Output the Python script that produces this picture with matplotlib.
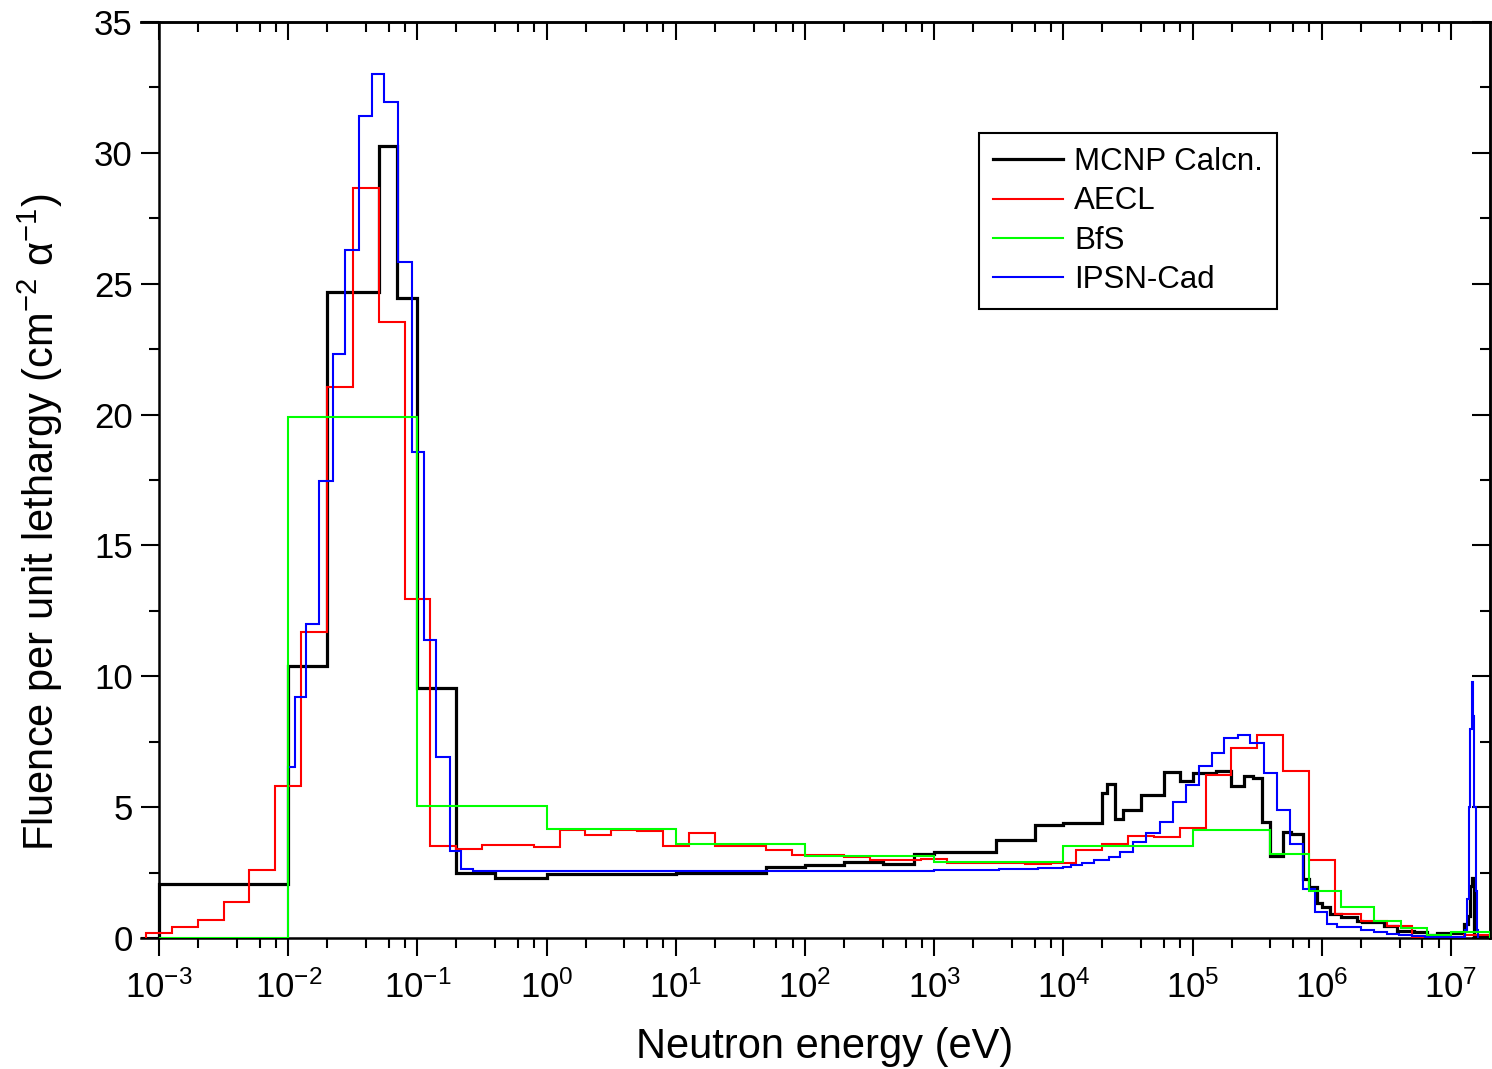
import numpy as np
import matplotlib
matplotlib.use('Agg')
import matplotlib.pyplot as plt
from matplotlib.lines import Line2D
from matplotlib.ticker import FixedLocator, MultipleLocator, NullFormatter, LogFormatterSciNotation

plt.rcParams['font.family'] = ['Liberation Sans', 'DejaVu Sans']
plt.rcParams['mathtext.fontset'] = 'custom'
plt.rcParams['mathtext.rm'] = 'Liberation Sans'
plt.rcParams['mathtext.it'] = 'Liberation Sans:italic'
plt.rcParams['mathtext.bf'] = 'Liberation Sans:bold'

# group boundaries are given as log10(E / eV), values are fluence per unit lethargy
mcnp_log_edges = [-3.0, -2.0, -1.699, -1.301, -1.155, -1.0, -0.699, -0.398, 0.0, 1.0, 1.699,
                  2.0, 2.301, 2.602, 2.845, 3.0, 3.477, 3.778, 4.0, 4.301, 4.34, 4.40, 4.46,
                  4.60, 4.78, 4.90, 5.0, 5.18, 5.30, 5.40, 5.47, 5.54, 5.60, 5.70, 5.76, 5.85,
                  5.90, 5.96, 6.0, 6.06, 6.15, 6.27, 6.31, 6.48, 6.58, 6.71, 6.81, 6.89, 7.10,
                  7.13, 7.15, 7.165, 7.18, 7.30]
mcnp_values = [2.06, 10.4, 24.7, 30.25, 24.45, 9.55, 2.5, 2.3, 2.45, 2.5, 2.7,
               2.8, 2.89, 2.83, 3.2, 3.3, 3.75, 4.3, 4.38, 5.55, 5.9, 4.55,
               4.9, 5.46, 6.36, 6.01, 6.3, 6.39, 5.82, 6.2, 6.1, 4.45, 3.12, 4.04, 3.97,
               2.25, 1.94, 1.34, 1.2, 0.92, 0.79, 0.66, 0.6, 0.47, 0.28, 0.22, 0.11, 0.19,
               0.55, 0.85, 2.0, 2.3, 0.05]

aecl_log_edges = [-3.1, -2.9, -2.7, -2.5, -2.3, -2.1, -1.9, -1.7, -1.5, -1.3, -1.1, -0.9,
                  -0.7, -0.5, -0.3, -0.1, 0.1, 0.3, 0.5, 0.7, 0.9, 1.1, 1.3, 1.5, 1.7, 1.9,
                  2.1, 2.3, 2.5, 2.7, 2.9, 3.1, 3.3, 3.5, 3.7, 3.9, 4.1, 4.3, 4.5, 4.7, 4.9,
                  5.1, 5.3, 5.5, 5.7, 5.9, 6.1, 6.3, 6.5, 6.7, 6.9, 7.1, 7.3]
aecl_values = [0.18, 0.41, 0.68, 1.36, 2.59, 5.79, 11.7, 21.06, 28.66, 23.54, 12.95,
               3.5, 3.4, 3.55, 3.56, 3.47, 4.11, 3.95, 4.14, 4.07, 3.53, 4.02, 3.53, 3.53,
               3.37, 3.19, 3.19, 3.11, 2.98, 2.98, 3.0, 2.88, 2.88, 2.85, 2.82, 2.87, 3.36,
               3.59, 3.91, 3.85, 4.2, 6.23, 7.25, 7.77, 6.37, 2.98, 0.92, 0.66, 0.47, 0.05,
               0.05, 0.1]

bfs_log_edges = [-3.0, -2.0, -1.0, 0.0, 1.0, 2.0, 3.0, 4.0, 5.0, 5.60, 5.90, 6.15, 6.40,
                 6.61, 6.81, 7.0, 7.30]
bfs_values = [0.0, 19.9, 5.05, 4.15, 3.6, 3.15, 2.9, 3.5, 4.13, 3.21, 1.81, 1.17, 0.66,
              0.38, 0.11, 0.22]

ipsn_log_edges = [-2.0, -1.95, -1.86, -1.76, -1.65, -1.56, -1.45, -1.35, -1.256, -1.15,
                  -1.04, -0.946, -0.86, -0.75, -0.66, -0.57, 1.0, 2.0, 3.0, 3.5, 3.8, 4.0,
                  4.06, 4.14, 4.24, 4.35, 4.44, 4.54, 4.64, 4.75, 4.85, 4.95, 5.05, 5.15,
                  5.24, 5.35, 5.44, 5.55, 5.65, 5.75, 5.85, 5.95, 6.04, 6.12, 6.30, 6.40,
                  6.50, 6.60, 6.70, 6.80, 6.90, 7.11, 7.125, 7.14, 7.15, 7.158, 7.165,
                  7.172, 7.18, 7.19, 7.20, 7.21]
ipsn_values = [6.52, 9.2, 12.0, 17.45, 22.3, 26.3, 31.4, 33.0, 31.96, 25.83, 18.56, 11.38,
               6.93, 3.34, 2.65, 2.55, 2.55, 2.56, 2.58, 2.62, 2.66, 2.72, 2.78, 2.85,
               2.97, 3.11, 3.27, 3.66, 4.0, 4.42, 5.18, 5.86, 6.56, 7.07, 7.64, 7.76,
               7.46, 6.29, 4.88, 3.59, 1.86, 0.98, 0.52, 0.41, 0.30, 0.22, 0.16, 0.1,
               0.06, 0.04, 0.03, 0.3, 1.5, 5.0, 8.0, 9.4, 9.8, 8.5, 5.0, 1.8, 0.3]

# label, edges, values, colour, width, drawing order
series = [
    ('MCNP Calcn.', mcnp_log_edges, mcnp_values, '#000000', 2.3, 2),
    ('AECL', aecl_log_edges, aecl_values, '#ff0000', 1.5, 3),
    ('BfS', bfs_log_edges, bfs_values, '#00ff00', 1.5, 5),
    ('IPSN-Cad', ipsn_log_edges, ipsn_values, '#0000ff', 1.5, 4),
]

fig = plt.figure(figsize=(14.92, 10.69), dpi=100)
ax = fig.add_axes([141 / 1492, 1 - 938 / 1069, 1349 / 1492, 916 / 1069])

handles = []
for name, log_edges, values, color, lw, z in series:
    edges = 10.0 ** np.array(log_edges)
    ax.stairs(values, edges, baseline=0, color=color, lw=lw, joinstyle='miter', zorder=z)
    handles.append(Line2D([], [], color=color, lw=lw, label=name))

ax.set_xscale('log')
ax.set_xlim(7.25e-4, 2.0e7)
ax.set_ylim(0, 35)

major_x = [10.0 ** k for k in range(-3, 8)]
minor_x = [m * 10.0 ** k for k in range(-3, 7) for m in (2, 4, 6, 8)]

ax.spines['left'].set_position(('data', 1e-3))
for sp in ax.spines.values():
    sp.set_linewidth(1.8)

ax.xaxis.set_major_locator(FixedLocator(major_x))
ax.xaxis.set_minor_locator(FixedLocator(minor_x))
ax.xaxis.set_major_formatter(LogFormatterSciNotation())
ax.xaxis.set_minor_formatter(NullFormatter())
ax.yaxis.set_major_locator(MultipleLocator(5))
ax.yaxis.set_minor_locator(MultipleLocator(2.5))
ax.tick_params(which='both', direction='out', top=False, right=False, width=1.5, labelsize=25)
ax.tick_params(which='major', length=13)
ax.tick_params(which='minor', length=7)
ax.tick_params(axis='x', pad=10)
ax.tick_params(axis='y', pad=6)

secx = ax.secondary_xaxis('top')
secx.xaxis.set_major_locator(FixedLocator(major_x))
secx.xaxis.set_minor_locator(FixedLocator(minor_x))
secx.xaxis.set_major_formatter(NullFormatter())
secx.xaxis.set_minor_formatter(NullFormatter())
secx.tick_params(which='both', direction='in', width=1.5)
secx.tick_params(which='major', length=13)
secx.tick_params(which='minor', length=7)
secx.spines['top'].set_linewidth(1.8)

secy = ax.secondary_yaxis('right')
secy.yaxis.set_major_locator(MultipleLocator(5))
secy.yaxis.set_minor_locator(MultipleLocator(2.5))
secy.yaxis.set_major_formatter(NullFormatter())
secy.tick_params(which='both', direction='in', width=1.5)
secy.tick_params(which='major', length=13)
secy.tick_params(which='minor', length=7)
secy.spines['right'].set_linewidth(1.8)

ax.set_xlabel('Neutron energy (eV)', fontsize=30)
ax.set_ylabel(r'Fluence per unit lethargy (cm$^{-2}$ $\mathrm{\alpha}^{-1}$)', fontsize=30)
ax.xaxis.set_label_coords(0.507, -0.097)
ax.yaxis.set_label_coords(-0.056, 0.454)

leg = ax.legend(handles=handles, loc='upper left',
                bbox_to_anchor=(979 / 1492, 1 - 133 / 1069), bbox_transform=fig.transFigure,
                borderaxespad=0, fontsize=22.5, handlelength=2.25, handletextpad=0.35,
                labelspacing=0.3, borderpad=0.45, fancybox=False, framealpha=1)
leg.get_frame().set_edgecolor('black')
leg.get_frame().set_linewidth(1.5)

fig.savefig('out.png', dpi=100)
